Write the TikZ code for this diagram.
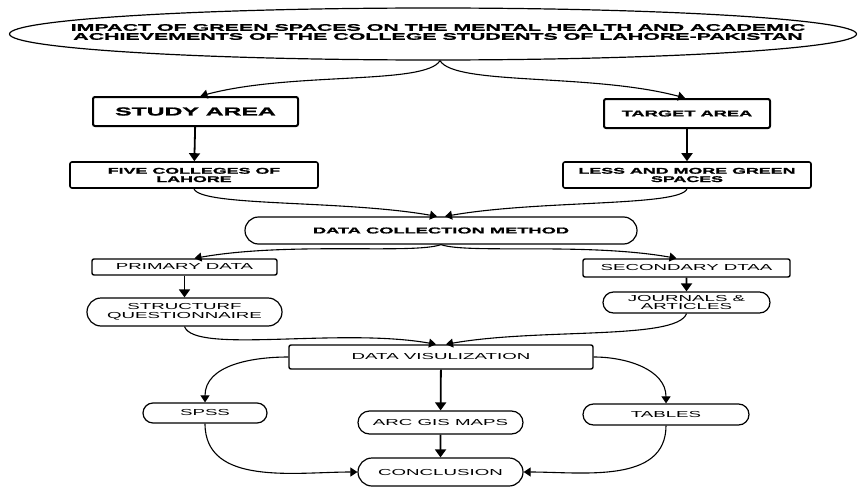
\documentclass[tikz,border=0pt]{standalone}
\usepackage{fontspec}
\newfontfamily\widefont[FakeStretch=2.15]{Liberation Sans}
\newfontfamily\wideheavy[FakeStretch=2.15,FakeBold=1.5]{Liberation Sans Bold}
\newfontfamily\titlefont[FakeStretch=2.25,FakeBold=1.5]{Liberation Sans Bold}
\usetikzlibrary{shapes.geometric,shapes.misc,arrows.meta}

\begin{document}
\begin{tikzpicture}[x=1pt,y=-1pt,
    box/.style={draw, rounded corners=2pt, line width=1.6pt, inner sep=0pt, align=center},
    pill/.style={draw, rounded rectangle, line width=1.2pt, inner sep=0pt, align=center},
    flow/.style={line width=1.1pt, -{Triangle[width=9pt,length=7pt]}},
    down/.style={line width=1.8pt, -{Triangle[width=11pt,length=8pt]}},
    heavytext/.style={font=\wideheavy\fontsize{#1}{#1}\selectfont},
    thintext/.style={font=\widefont\fontsize{#1}{#1}\selectfont}]
  \useasboundingbox (0,0) rectangle (859,487);

  % title
  \node [draw, ellipse, line width=1.2pt, inner sep=0pt, minimum width=847pt, minimum height=52pt] (title) at (433,34) {};
  \node [font=\titlefont\fontsize{9.5}{9}\selectfont, align=center] (titletext) at (438,32) {IMPACT OF GREEN SPACES ON THE MENTAL HEALTH AND ACADEMIC\\ACHIEVEMENTS OF THE COLLEGE STUDENTS OF LAHORE-PAKISTAN};

  % areas
  \node [box, line width=2pt, minimum width=205pt, minimum height=29pt, heavytext=11.5] (study) at (195.5,111.5) {STUDY AREA};
  \node [box, line width=2pt, minimum width=166pt, minimum height=29pt, heavytext=8.5] (target) at (687,113.5) {TARGET AREA};
  \node [box, minimum width=248pt, minimum height=26pt, heavytext=8.3] (five) at (194,175) {FIVE COLLEGES OF\\LAHORE};
  \node [box, minimum width=248pt, minimum height=26pt, heavytext=8.3] (less) at (687,175) {LESS AND MORE GREEN\\SPACES};

  % data
  \node [pill, minimum width=392pt, minimum height=27pt, heavytext=8.5] (collect) at (441,230.5) {DATA COLLECTION METHOD};
  \node [box, line width=1.4pt, minimum width=185pt, minimum height=16pt, thintext=8.7] (primary) at (184.5,267) {PRIMARY DATA};
  \node [box, line width=1.4pt, minimum width=207pt, minimum height=18pt, thintext=8.7] (secondary) at (686.5,268) {SECONDARY DTAA};
  \node [pill, minimum width=195pt, minimum height=28pt, thintext=8.7] (struct) at (184.5,312) {STRUCTURF\\QUESTIONNAIRE};
  \node [pill, minimum width=167pt, minimum height=21pt, thintext=8.7] (journals) at (686.5,302.5) {JOURNALS \&\\ARTICLES};

  % results
  \node [box, line width=1.4pt, minimum width=304pt, minimum height=24pt, thintext=8.7] (visual) at (441,357) {DATA VISULIZATION};
  \node [pill, minimum width=124pt, minimum height=20pt, thintext=8.7] (spss) at (205,413) {SPSS};
  \node [pill, minimum width=165pt, minimum height=23pt, thintext=8.7] (arcgis) at (440.5,422.5) {ARC GIS MAPS};
  \node [pill, minimum width=166pt, minimum height=21pt, thintext=8.7] (tables) at (666,414.5) {TABLES};
  \node [pill, minimum width=165pt, minimum height=28pt, thintext=8.7] (concl) at (440.5,472) {CONCLUSION};

  \draw [flow] ([xshift=7pt]title.south) to[out=-120, in=15, out looseness=0.3] ([xshift=5pt]study.north);
  \draw [flow] ([xshift=7pt]title.south) to[out=-60, in=165, out looseness=0.3] ([xshift=-2pt]target.north);
  \draw [down] (study) -- (five);
  \draw [down] (target) -- (less);
  \draw [flow] (five.south) to[out=-70, in=170, out looseness=0.2] ([xshift=-4pt]collect.north);
  \draw [flow] (less.south) to[out=-110, in=10, out looseness=0.2] ([xshift=4pt]collect.north);
  \draw [flow] (collect.south) to[out=-160, in=10, out looseness=0.3] ([xshift=10pt]primary.north);
  \draw [flow] (collect.south) to[out=-20, in=170, out looseness=0.3] ([xshift=-10pt]secondary.north);
  \draw [down] (primary) -- (struct);
  \draw [down] (secondary) -- (journals);
  \draw [flow] (struct.south) to[out=-70, in=170, out looseness=0.3] ([xshift=-5pt]visual.north);
  \draw [flow] (journals.south) to[out=-110, in=10, out looseness=0.3] ([xshift=5pt]visual.north);
  \draw [flow] (visual.west) to[out=180, in=90] (spss.north);
  \draw [down] (visual) -- (arcgis);
  \draw [flow] (visual.east) to[out=0, in=90] (tables.north);
  \draw [down] (arcgis) -- (concl);
  \draw [flow] (spss.south) to[out=-90, in=180] (concl.west);
  \draw [flow] (tables.south) to[out=-90, in=0] (concl.east);
\end{tikzpicture}
\end{document}
